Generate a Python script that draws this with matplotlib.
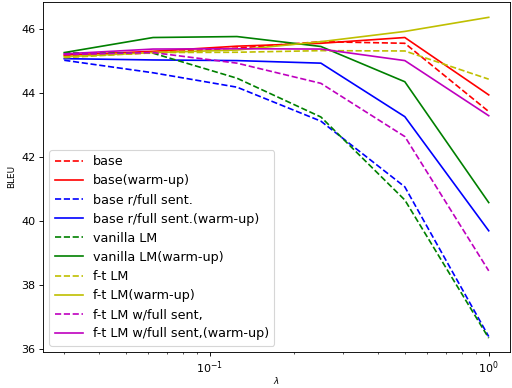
import matplotlib
matplotlib.use("Agg")
import matplotlib.pyplot as plt

lam = [0.03, 0.0625, 0.125, 0.25, 0.5, 1.0]

base = [45.15, 45.25, 45.4, 45.6, 45.55, 43.42]
base_wu = [45.18, 45.3, 45.46, 45.55, 45.73, 43.94]
base_full = [45.02, 44.63, 44.18, 43.12, 41.07, 36.4]
base_full_wu = [45.07, 45.03, 45.01, 44.93, 43.26, 39.7]
vanilla = [45.25, 45.24, 44.46, 43.25, 40.66, 36.35]
vanilla_wu = [45.26, 45.73, 45.76, 45.45, 44.35, 40.58]
ft = [45.1, 45.26, 45.27, 45.32, 45.31, 44.43]
ft_wu = [45.13, 45.26, 45.34, 45.6, 45.92, 46.36]
ft_full = [45.2, 45.26, 44.93, 44.3, 42.64, 38.45]
ft_full_wu = [45.22, 45.37, 45.38, 45.37, 45.01, 43.29]

fig = plt.figure(figsize=(6.4, 4.85), dpi=80)
ax = fig.add_axes([0.084, 0.093, 0.912, 0.902])

ax.plot(lam, base, 'r--', label='base')
ax.plot(lam, base_wu, 'r-', label='base(warm-up)')
ax.plot(lam, base_full, 'b--', label='base r/full sent.')
ax.plot(lam, base_full_wu, 'b-', label='base r/full sent.(warm-up)')
ax.plot(lam, vanilla, 'g--', label='vanilla LM')
ax.plot(lam, vanilla_wu, 'g-', label='vanilla LM(warm-up)')
ax.plot(lam, ft, 'y--', label='f-t LM')
ax.plot(lam, ft_wu, 'y-', label='f-t LM(warm-up)')
ax.plot(lam, ft_full, 'm--', label='f-t LM w/full sent,')
ax.plot(lam, ft_full_wu, 'm-', label='f-t LM w/full sent,(warm-up)')

ax.set_xscale('log')
ax.set_yticks([36, 38, 40, 42, 44, 46])
ax.set_ylim(35.92, 46.84)
ax.set_xlabel(r'$\lambda$', fontsize=8, labelpad=-1)
ax.set_ylabel('BLEU', fontsize=8)
ax.legend(loc='lower left', fontsize=11.5, labelspacing=0.48, handlelength=2.2)

fig.savefig("out.png", dpi=80)
